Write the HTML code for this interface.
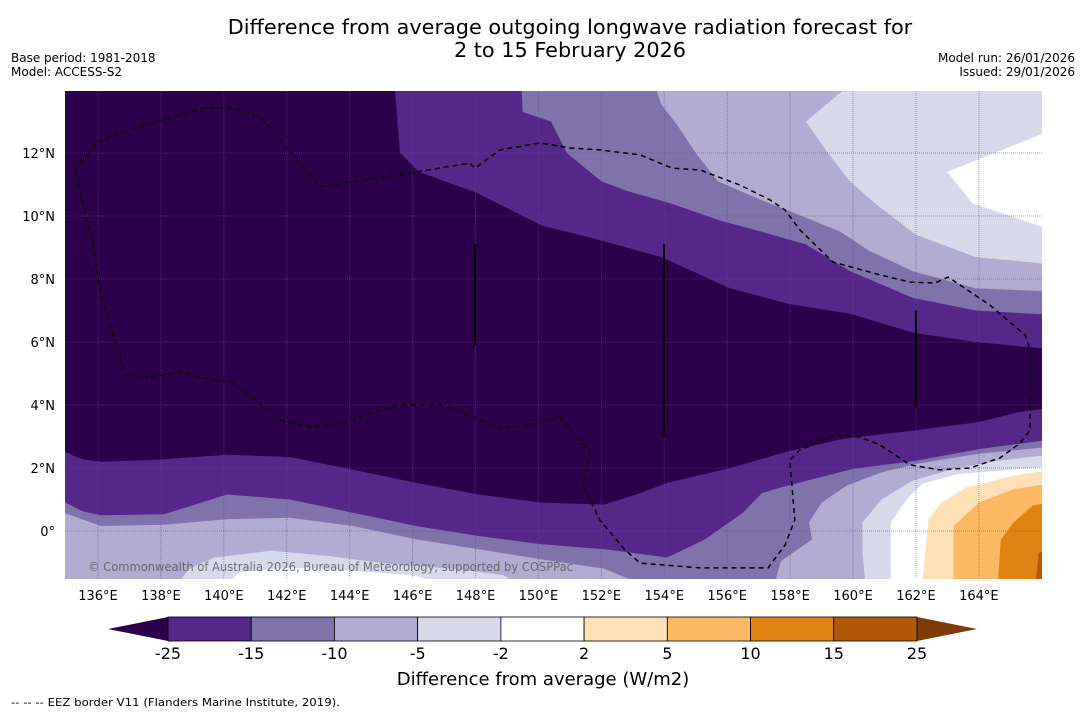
<!DOCTYPE html>
<html><head><meta charset="utf-8"><style>
html,body{margin:0;padding:0;background:#fff;}
svg{display:block;font-family:"DejaVu Sans","Liberation Sans",sans-serif;}
</style></head><body>
<svg id="chart" width="1085" height="713" viewBox="0 0 1085 713">
<defs><clipPath id="mapclip"><rect x="65" y="91" width="977" height="488"/></clipPath></defs>
<text x="570" y="34" font-size="20.8" text-anchor="middle" fill="#000">Difference from average outgoing longwave radiation forecast for</text>
<text x="570" y="57" font-size="20.8" text-anchor="middle" fill="#000">2 to 15 February 2026</text>
<text x="11" y="62" font-size="12">Base period: 1981-2018</text>
<text x="11" y="76" font-size="12">Model: ACCESS-S2</text>
<text x="1075" y="62" font-size="12" text-anchor="end">Model run: 26/01/2026</text>
<text x="1075" y="76" font-size="12" text-anchor="end">Issued: 29/01/2026</text>
<g id="map" clip-path="url(#mapclip)">
<rect x="65" y="91" width="977" height="488" fill="#2d004b"/>
</g>
<g id="axes"></g>
<g id="cbar"></g>
<text x="543" y="685" font-size="18" text-anchor="middle">Difference from average (W/m2)</text>
<text x="11" y="706" font-size="11" textLength="329" lengthAdjust="spacingAndGlyphs">--  --  -- EEZ border V11 (Flanders Marine Institute, 2019).</text>
</svg>
<script>
const NS="http://www.w3.org/2000/svg";
const lonTicks=[136,138,140,142,144,146,148,150,152,154,156,158,160,162,164];
const latTicks=[0,2,4,6,8,10,12];
const cbarLevels=[-25,-15,-10,-5,-2,2,5,10,15,25];
const cbarColors=["#542788","#8073ac","#b2abd2","#d8daeb","#ffffff","#fee0b6","#fdb863","#e08214","#b35806"];
// northern contour boundaries (lon, lat)
const north1=[[145.4,14.5],[145.6,12.0],[146.2,11.4],[148,10.75],[150.1,9.7],[151.7,9.3],[153.9,8.7],[156.1,7.7],[158,7.2],[159.9,6.9],[161.9,6.3],[163.9,6.0],[166.5,5.75]];
const north2=[[149.45,14.5],[149.5,13.3],[150.4,13.0],[150.9,12.0],[152.0,11.1],[152.8,10.8],[154.2,10.4],[155.8,9.85],[157.1,9.5],[158.5,9.1],[159.9,8.25],[161.9,7.4],[163.9,7.0],[166.5,6.85]];
const north3=[[153.6,14.5],[153.9,13.55],[154.4,12.9],[155,12.0],[155.7,11.1],[157.1,10.5],[158.5,9.95],[159.6,9.5],[160.5,8.9],[161.9,8.25],[163.9,7.7],[166.5,7.6]];
const north4=[[160.3,14.5],[158.5,13.0],[159.2,12.0],[159.9,11.1],[160.7,10.4],[162,9.4],[163.9,8.7],[166.5,8.45]];
const north5=[[166.5,12.8],[163,11.4],[163.8,10.4],[166.5,9.5]];
// southern contour boundaries
const south1=[[134.5,2.7],[135.5,2.28],[136.1,2.2],[137.9,2.26],[140.1,2.42],[142.1,2.35],[144.1,1.95],[146.1,1.53],[148.1,1.16],[150.1,0.9],[152.1,0.84],[153.1,1.16],[154.1,1.53],[156.1,2.0],[158,2.55],[159.7,2.93],[162,3.2],[164,3.46],[165.3,3.78],[166.5,3.94]];
const south2=[[134.5,1.15],[135.5,0.63],[136.1,0.5],[138.1,0.53],[140.1,1.16],[142.1,1.0],[144.1,0.58],[146.1,0.16],[148.1,-0.16],[150.1,-0.42],[152.1,-0.58],[154.1,-0.84],[155.3,-0.26],[156.5,0.58],[157.1,1.2],[157.7,1.38],[158.74,1.65],[160,1.97],[162,2.23],[164,2.6],[166.5,2.93]];
const south3a=[[134.5,0.72],[136.1,0.16],[138.1,0.2],[140.1,0.37],[142.1,0.42],[144.1,0.16],[146.1,-0.26],[148.1,-0.58],[150.1,-0.9],[152.1,-1.2],[153.3,-1.7]];
const south3b=[[157.5,-1.7],[157.7,-0.96],[158.7,-0.27],[158.6,0.27],[159,0.9],[159.8,1.44],[160.9,1.86],[162,2.13],[164,2.45],[166.5,2.7]];
const south4a=[[138.5,-1.7],[138.9,-1.2],[139.7,-0.84],[141.5,-0.63],[143.3,-0.79],[145.3,-1.05],[147.3,-1.2],[148.9,-1.4],[149.3,-1.7]];
const south4b=[[160.4,-1.7],[160.3,-0.7],[160.3,0.27],[160.9,1.0],[161.9,1.6],[163.2,1.97],[164.6,2.23],[166.5,2.45]];
const south5a=[[140.1,-1.7],[140.5,-1.3],[142.1,-1.16],[144.1,-1.26],[146.1,-1.42],[146.9,-1.7]];
const south5b=[[161.2,-1.7],[161.2,0.27],[161.7,1.0],[162.2,1.5],[163.3,1.8],[166.5,2.07]];
const south6=[[162.2,-1.7],[162.4,0.37],[162.8,0.9],[163.6,1.38],[165.1,1.76],[166.5,1.97]];
const south7=[[163.2,-1.7],[163.2,0.16],[164,0.9],[165.1,1.33],[166.5,1.54]];
const south8=[[164.6,-1.7],[164.7,-0.27],[165.1,0.27],[165.7,0.8],[166.5,0.96]];
const south9=[[165.8,-1.7],[165.9,-0.7],[166.5,-0.48]];
// EEZ border (dashed)
const eezLon=[135.27,136.06,137.49,139.4,140.35,141.21,143.06,144.96,147.82,147.98,148.78,150.05,151.0,151.95,153.23,154.25,155.14,156.41,157.36,157.84,158.31,159.36,160.86,161.81,162.6,163.02,163.4,164.35,165.47,165.63,165.63,165.31,164.67,163.72,162.76,161.81,160.86,160.22,159.43,158.31,157.99,158.15,157.84,157.3,155.14,153.23,152.75,151.95,151.42,151.64,150.69,149.73,148.78,147.51,146.87,145.6,144.96,143.69,142.74,141.79,140.99,140.26,139.24,138.77,137.65,136.86,136.06,135.81,135.27];
const eezLat=[11.46,12.41,12.89,13.43,13.43,13.11,10.92,11.21,11.68,11.52,12.1,12.32,12.16,12.1,11.94,11.52,11.46,10.98,10.51,10.19,9.56,8.54,8.13,7.9,7.87,8.06,7.81,7.17,6.22,5.75,3.21,2.79,2.32,2.0,1.94,2.1,2.73,2.98,3.05,2.57,2.25,0.35,-0.44,-1.17,-1.17,-1.02,-0.6,0.35,1.46,2.51,3.59,3.37,3.27,3.78,4.0,4.0,3.84,3.4,3.3,3.52,4.16,4.73,4.86,5.05,4.89,4.95,7.65,9.24,11.46];
const segLon=[147.98,153.99,162.0];
const segLatTop=[9.1,9.1,7.0];
const segLatBot=[5.9,2.98,3.9];

function X(lon){return 98+(lon-136)*31.46;}
function Y(lat){return 531-lat*31.5;}
function pts(arr){return arr.map(p=>X(p[0]).toFixed(1)+","+Y(p[1]).toFixed(1)).join(" ");}
const map=document.getElementById("map");
function poly(arr,fill,name){
  const el=document.createElementNS(NS,"polygon");
  el.setAttribute("points",pts(arr));
  el.setAttribute("fill",fill);
  
  
  map.appendChild(el);
}
const NE=[166.5,14.5], SW=[134.5,-1.7], SE=[166.5,-1.7];
poly(north1.concat([NE]),cbarColors[0],"north-band-minus15");
poly(north2.concat([NE]),cbarColors[1],"north-band-minus10");
poly(north3.concat([NE]),cbarColors[2],"north-band-minus5");
poly(north4.concat([NE]),cbarColors[3],"north-band-minus2");
poly(north5,cbarColors[4],"north-band-near-zero");
poly(south1.concat([SE,SW]),cbarColors[0],"south-band-minus15");
poly(south2.concat([SE,SW]),cbarColors[1],"south-band-minus10");
poly(south3a.concat([SW]),cbarColors[2],"south-band-minus5-west");
poly(south3b.concat([SE]),cbarColors[2],"south-band-minus5-east");
poly(south4a,cbarColors[3],"south-band-minus2-west");
poly(south4b.concat([SE]),cbarColors[3],"south-band-minus2-east");
poly(south5a,cbarColors[4],"south-band-near-zero-west");
poly(south5b.concat([SE]),cbarColors[4],"south-band-near-zero-east");
poly(south6.concat([SE]),cbarColors[5],"south-band-plus2");
poly(south7.concat([SE]),cbarColors[6],"south-band-plus5");
poly(south8.concat([SE]),cbarColors[7],"south-band-plus10");
poly(south9.concat([SE]),cbarColors[8],"south-band-plus15");
// gridlines
lonTicks.forEach(l=>{
  const g=document.createElementNS(NS,"line");
  g.setAttribute("x1",X(l));g.setAttribute("x2",X(l));g.setAttribute("y1",91);g.setAttribute("y2",579);
  g.setAttribute("stroke","rgba(90,90,90,0.55)");g.setAttribute("stroke-width","1");g.setAttribute("stroke-dasharray","1,1");
  
  
  map.appendChild(g);
});
latTicks.forEach(l=>{
  const g=document.createElementNS(NS,"line");
  g.setAttribute("y1",Y(l));g.setAttribute("y2",Y(l));g.setAttribute("x1",65);g.setAttribute("x2",1042);
  g.setAttribute("stroke","rgba(90,90,90,0.55)");g.setAttribute("stroke-width","1");g.setAttribute("stroke-dasharray","1,1");
  
  
  map.appendChild(g);
});
// EEZ
const eez=document.createElementNS(NS,"polyline");
eez.setAttribute("points",eezLon.map((l,i)=>X(l).toFixed(1)+","+Y(eezLat[i]).toFixed(1)).join(" "));
eez.setAttribute("fill","none");eez.setAttribute("stroke","#000");eez.setAttribute("stroke-width","1.5");eez.setAttribute("stroke-dasharray","5,4");


map.appendChild(eez);
segLon.forEach((l,i)=>{
  const s=document.createElementNS(NS,"line");
  s.setAttribute("x1",X(l));s.setAttribute("x2",X(l));s.setAttribute("y1",Y(segLatTop[i]));s.setAttribute("y2",Y(segLatBot[i]));
  s.setAttribute("stroke","#000");s.setAttribute("stroke-width","2");
  
  
  map.appendChild(s);
});
const cp=document.createElementNS(NS,"text");
cp.setAttribute("x",88);cp.setAttribute("y",571);cp.setAttribute("font-size","12");cp.setAttribute("fill","rgba(90,90,90,0.85)");
cp.setAttribute("textLength","485");cp.setAttribute("lengthAdjust","spacingAndGlyphs");
cp.textContent="© Commonwealth of Australia 2026, Bureau of Meteorology, supported by COSPPac";


map.appendChild(cp);
// axes labels
const axes=document.getElementById("axes");
lonTicks.forEach(l=>{
  const t=document.createElementNS(NS,"text");
  t.setAttribute("x",X(l));t.setAttribute("y",600);t.setAttribute("font-size","13");t.setAttribute("text-anchor","middle");
  t.textContent=l+"°E";
  
  
  axes.appendChild(t);
});
latTicks.forEach(l=>{
  const t=document.createElementNS(NS,"text");
  t.setAttribute("x",55);t.setAttribute("y",Y(l)+5);t.setAttribute("font-size","13");t.setAttribute("text-anchor","end");
  t.textContent=l===0?"0°":l+"°N";
  
  
  axes.appendChild(t);
});
// colorbar
const cb=document.getElementById("cbar");
const cbX0=168,cbX1=917,cbY=617,cbH=24;
const cw=(cbX1-cbX0)/(cbarLevels.length-1);
const lt=document.createElementNS(NS,"polygon");
lt.setAttribute("points",`${cbX0},${cbY} ${cbX0},${cbY+cbH} 108,${cbY+cbH/2}`);lt.setAttribute("fill","#2d004b");


cb.appendChild(lt);
const rt=document.createElementNS(NS,"polygon");
rt.setAttribute("points",`${cbX1},${cbY} ${cbX1},${cbY+cbH} 977,${cbY+cbH/2}`);rt.setAttribute("fill","#7f3b08");


cb.appendChild(rt);
cbarColors.forEach((c,i)=>{
  const r=document.createElementNS(NS,"rect");
  r.setAttribute("x",cbX0+i*cw);r.setAttribute("y",cbY);r.setAttribute("width",cw);r.setAttribute("height",cbH);
  r.setAttribute("fill",c);r.setAttribute("stroke","#000");r.setAttribute("stroke-width","0.8");
  
  
  cb.appendChild(r);
});
cbarLevels.forEach((v,i)=>{
  const t=document.createElementNS(NS,"text");
  t.setAttribute("x",cbX0+i*cw);t.setAttribute("y",659);t.setAttribute("font-size","16");t.setAttribute("text-anchor","middle");
  t.textContent=String(v);
  
  
  cb.appendChild(t);
});
</script>
</body></html>
